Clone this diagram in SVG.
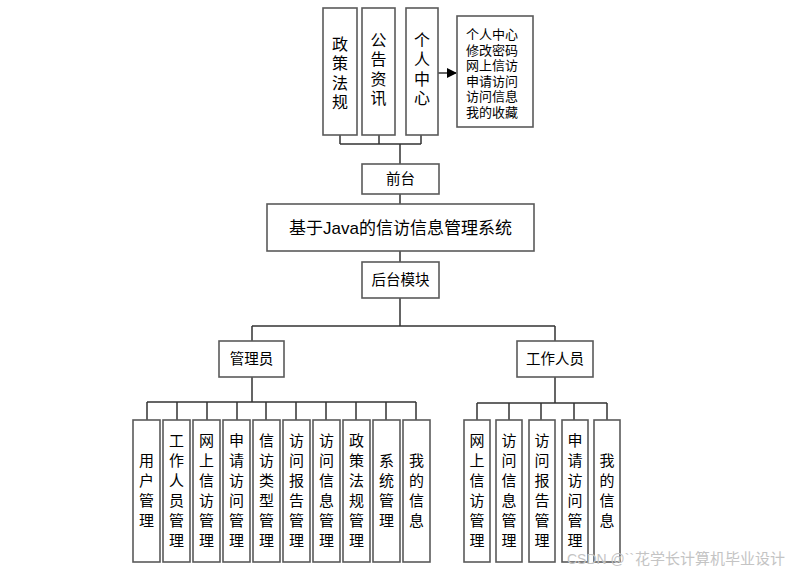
<svg xmlns="http://www.w3.org/2000/svg" width="791" height="572" viewBox="0 0 791 572">
<style>
.box{fill:#fff;stroke:#5a5a5a;stroke-width:1.6}
.t{font-family:"Liberation Sans","Noto Sans CJK SC",sans-serif;fill:#000;text-anchor:middle}
.v{font-size:15px}
.top{font-size:16px}
.m{font-size:14.5px}
.c{fill:none;stroke:#333;stroke-width:1.5}
.wm{font-family:"Liberation Sans","Noto Sans CJK SC",sans-serif;fill:#c4c4c4}
</style>
<defs>
<marker id="arr" markerWidth="10" markerHeight="10" refX="9" refY="5" orient="auto" markerUnits="userSpaceOnUse" viewBox="0 0 10 10">
<path d="M0,0 L10,5 L0,10 z" fill="#000"/>
</marker>
</defs>
<rect width="791" height="572" fill="#fff"/>

<g id="connectors">
<path class="c" d="M340,135V144M379,135V144M421,135V144M340,144H421M400,144V164"/>
<path class="c" d="M438,73H456" stroke="#000" marker-end="url(#arr)"/>
<path class="c" d="M400,194V204M400,251V262M400,298V326M252,326H555M252,326V341M555,326V341"/>
<path class="c" d="M252,377V402M147,402H416M147,402V420M177,402V420M207,402V420M237,402V420M266,402V420M296,402V420M326,402V420M356,402V420M386,402V420M416,402V420"/>
<path class="c" d="M555,377V403M477,403H607M477,403V420M509,403V420M541,403V420M574,403V420M607,403V420"/>
</g>

<g id="n-zcfg"><rect class="box" x="323" y="8" width="34" height="127"/>
<text class="t top" x="340"><tspan x="340" y="50">政</tspan><tspan x="340" dy="19.3">策</tspan><tspan x="340" dy="19.3">法</tspan><tspan x="340" dy="19.3">规</tspan></text></g>
<g id="n-ggzx"><rect class="box" x="362" y="8" width="33" height="127"/>
<text class="t top"><tspan x="378.5" y="46">公</tspan><tspan x="378.5" dy="19.3">告</tspan><tspan x="378.5" dy="19.3">资</tspan><tspan x="378.5" dy="19.3">讯</tspan></text></g>
<g id="n-grzx"><rect class="box" x="406" y="8" width="32" height="127"/>
<text class="t top"><tspan x="422" y="46">个</tspan><tspan x="422" dy="19.3">人</tspan><tspan x="422" dy="19.3">中</tspan><tspan x="422" dy="19.3">心</tspan></text></g>
<g id="n-info"><rect class="box" x="457" y="16" width="76" height="111"/>
<text class="t" style="font-size:13px;text-anchor:start"><tspan x="466" y="39">个人中心</tspan><tspan x="466" dy="15.5">修改密码</tspan><tspan x="466" dy="15.5">网上信访</tspan><tspan x="466" dy="15.5">申请访问</tspan><tspan x="466" dy="15.5">访问信息</tspan><tspan x="466" dy="15.5">我的收藏</tspan></text></g>

<g id="n-qt"><rect class="box" x="362" y="164" width="77" height="30"/>
<text class="t m" x="400.5" y="184">前台</text></g>
<g id="n-main"><rect class="box" x="267" y="204" width="267" height="47"/>
<text class="t" style="font-size:17px" x="400.5" y="234">基于Java的信访信息管理系统</text></g>
<g id="n-ht"><rect class="box" x="362" y="262" width="77" height="36"/>
<text class="t m" x="400.5" y="285">后台模块</text></g>
<g id="n-gly"><rect class="box" x="219" y="341" width="65" height="36"/>
<text class="t m" x="251.5" y="364">管理员</text></g>
<g id="n-gzry"><rect class="box" x="517" y="341" width="76" height="36"/>
<text class="t m" x="555" y="364">工作人员</text></g>

<g id="a1"><rect class="box" x="133" y="420" width="27" height="142"/>
<text class="t v"><tspan x="146.5" y="466">用</tspan><tspan x="146.5" dy="20">户</tspan><tspan x="146.5" dy="20">管</tspan><tspan x="146.5" dy="20">理</tspan></text></g>
<g id="a2"><rect class="box" x="163" y="420" width="27" height="142"/>
<text class="t v"><tspan x="176.5" y="446">工</tspan><tspan x="176.5" dy="20">作</tspan><tspan x="176.5" dy="20">人</tspan><tspan x="176.5" dy="20">员</tspan><tspan x="176.5" dy="20">管</tspan><tspan x="176.5" dy="20">理</tspan></text></g>
<g id="a3"><rect class="box" x="193" y="420" width="27" height="142"/>
<text class="t v"><tspan x="206.5" y="446">网</tspan><tspan x="206.5" dy="20">上</tspan><tspan x="206.5" dy="20">信</tspan><tspan x="206.5" dy="20">访</tspan><tspan x="206.5" dy="20">管</tspan><tspan x="206.5" dy="20">理</tspan></text></g>
<g id="a4"><rect class="box" x="223" y="420" width="27" height="142"/>
<text class="t v"><tspan x="236.5" y="446">申</tspan><tspan x="236.5" dy="20">请</tspan><tspan x="236.5" dy="20">访</tspan><tspan x="236.5" dy="20">问</tspan><tspan x="236.5" dy="20">管</tspan><tspan x="236.5" dy="20">理</tspan></text></g>
<g id="a5"><rect class="box" x="253" y="420" width="27" height="142"/>
<text class="t v"><tspan x="266.5" y="446">信</tspan><tspan x="266.5" dy="20">访</tspan><tspan x="266.5" dy="20">类</tspan><tspan x="266.5" dy="20">型</tspan><tspan x="266.5" dy="20">管</tspan><tspan x="266.5" dy="20">理</tspan></text></g>
<g id="a6"><rect class="box" x="283" y="420" width="27" height="142"/>
<text class="t v"><tspan x="296.5" y="446">访</tspan><tspan x="296.5" dy="20">问</tspan><tspan x="296.5" dy="20">报</tspan><tspan x="296.5" dy="20">告</tspan><tspan x="296.5" dy="20">管</tspan><tspan x="296.5" dy="20">理</tspan></text></g>
<g id="a7"><rect class="box" x="313" y="420" width="27" height="142"/>
<text class="t v"><tspan x="326.5" y="446">访</tspan><tspan x="326.5" dy="20">问</tspan><tspan x="326.5" dy="20">信</tspan><tspan x="326.5" dy="20">息</tspan><tspan x="326.5" dy="20">管</tspan><tspan x="326.5" dy="20">理</tspan></text></g>
<g id="a8"><rect class="box" x="343" y="420" width="27" height="142"/>
<text class="t v"><tspan x="356.5" y="446">政</tspan><tspan x="356.5" dy="20">策</tspan><tspan x="356.5" dy="20">法</tspan><tspan x="356.5" dy="20">规</tspan><tspan x="356.5" dy="20">管</tspan><tspan x="356.5" dy="20">理</tspan></text></g>
<g id="a9"><rect class="box" x="373" y="420" width="27" height="142"/>
<text class="t v"><tspan x="386.5" y="466">系</tspan><tspan x="386.5" dy="20">统</tspan><tspan x="386.5" dy="20">管</tspan><tspan x="386.5" dy="20">理</tspan></text></g>
<g id="a10"><rect class="box" x="403" y="420" width="27" height="142"/>
<text class="t v"><tspan x="416.5" y="466">我</tspan><tspan x="416.5" dy="20">的</tspan><tspan x="416.5" dy="20">信</tspan><tspan x="416.5" dy="20">息</tspan></text></g>

<g id="b1"><rect class="box" x="464" y="420" width="26" height="142"/>
<text class="t v"><tspan x="477" y="446">网</tspan><tspan x="477" dy="20">上</tspan><tspan x="477" dy="20">信</tspan><tspan x="477" dy="20">访</tspan><tspan x="477" dy="20">管</tspan><tspan x="477" dy="20">理</tspan></text></g>
<g id="b2"><rect class="box" x="496" y="420" width="26" height="142"/>
<text class="t v"><tspan x="509" y="446">访</tspan><tspan x="509" dy="20">问</tspan><tspan x="509" dy="20">信</tspan><tspan x="509" dy="20">息</tspan><tspan x="509" dy="20">管</tspan><tspan x="509" dy="20">理</tspan></text></g>
<g id="b3"><rect class="box" x="529" y="420" width="26" height="142"/>
<text class="t v"><tspan x="542" y="446">访</tspan><tspan x="542" dy="20">问</tspan><tspan x="542" dy="20">报</tspan><tspan x="542" dy="20">告</tspan><tspan x="542" dy="20">管</tspan><tspan x="542" dy="20">理</tspan></text></g>
<g id="b4"><rect class="box" x="562" y="420" width="26" height="142"/>
<text class="t v"><tspan x="575" y="446">申</tspan><tspan x="575" dy="20">请</tspan><tspan x="575" dy="20">访</tspan><tspan x="575" dy="20">问</tspan><tspan x="575" dy="20">管</tspan><tspan x="575" dy="20">理</tspan></text></g>
<g id="b5"><rect class="box" x="594" y="420" width="26" height="142"/>
<text class="t v"><tspan x="607" y="466">我</tspan><tspan x="607" dy="20">的</tspan><tspan x="607" dy="20">信</tspan><tspan x="607" dy="20">息</tspan></text></g>

<g id="watermark">
<text class="wm" x="567" y="564" style="font-size:14px">CSDN @``</text>
<text class="wm" x="635" y="564" style="font-size:15px" textLength="150" lengthAdjust="spacing">花学长计算机毕业设计</text>
</g>
</svg>
